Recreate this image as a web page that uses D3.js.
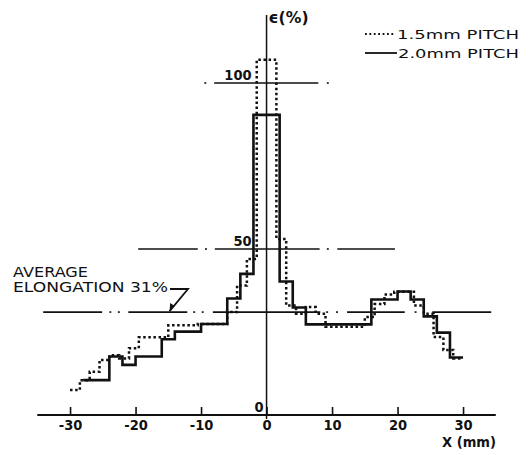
<!DOCTYPE html>
<html><head><meta charset="utf-8">
<script src="https://cdn.jsdelivr.net/npm/d3@7"></script>
<style>body{margin:0;background:#fff}svg{display:block}</style>
</head><body>
<svg id="c" width="531" height="455"></svg>
<script>
// ---- data ----
const xTicks = [-30, -20, -10, 0, 10, 20, 30];
const yTicks = [0, 50, 100];
// 1.5 mm pitch (dotted): bin starts (mm) and elongation (%)
const pitch15X = [-30,-28.5,-27,-25.5,-24,-22.5,-21,-19.5,-18,-16.5,-15,-13.5,-12,-10.5,-9,-7.5,-6,-4.5,-3,-1.5,
                  0,1.5,3,4.5,6,7.5,9,10.5,12,13.5,15,16.5,18,19.5,21,22.5,24,25.5,27,28.5];
const pitch15V = [7.5,10.5,13.0,16.6,18.0,17.0,20.1,23.4,23.4,23.4,27.0,27.0,27.0,27.4,27.4,27.4,31.0,39.0,47.0,107,
                  107,53,33,30.5,32.5,30.5,26.6,26.6,26.6,26.6,29.5,33.4,36.3,37.1,37.1,33.0,30.5,23.5,19.6,17.0];
const pitch15End = 30;
// 2.0 mm pitch (solid)
const pitch20X = [-28,-26,-24,-22,-20,-18,-16,-14,-12,-10,-8,-6,-4,-2,0,2,4,6,8,10,12,14,16,18,20,22,24,26,28];
const pitch20V = [10.5,10.5,17.6,15.1,17.6,17.6,22.8,25.1,25.1,27.4,27.4,35.1,42.5,90.4,90.4,40.2,32.4,27.3,27.3,27.3,27.3,27.3,34.8,34.8,37.2,34.8,29.7,24.8,17.3];
const pitch20End = 30;
const averageElongation = 31;
// reference lines: dash/dot pieces (mm)
const ref100 = [[-9.5,-9.2],[-8.0,7.9],[9.2,9.5]];
const ref50 = [[-19.6,-10.5],[-9.4,-9.1],[-7.9,8.1],[9.2,9.5],[10.8,19.6]];
const refAvg = [[-34.1,-25.1],[-24.0,-23.7],[-22.7,-22.4],[-21.1,-12.1],[-11.2,-10.9],[-9.9,-9.6],[-8.2,8.2],
                [9.1,9.4],[10.6,10.9],[12.3,21.1],[22.6,22.9],[23.9,24.2],[25.3,34.3]];
const legendLabels = ["1.5mm PITCH", "2.0mm PITCH"];

// ---- chart ----
const svg = d3.select("#c");
const x = d3.scaleLinear().domain([-35, 35]).range([37.3, 495.8]);
const y = d3.scaleLinear().domain([0, 100]).range([415, 83]);
const boldFont = "DejaVu Sans Condensed, DejaVu Sans, sans-serif";

function refLine(level, segs) {
  svg.append("g").selectAll("line").data(segs).join("line")
    .attr("x1", d => x(d[0])).attr("x2", d => x(d[1]))
    .attr("y1", y(level)).attr("y2", y(level))
    .attr("stroke", "#111").attr("stroke-width", 1.6);
}
refLine(100, ref100);
refLine(50, ref50);
refLine(averageElongation, refAvg);

// x axis
const xAxis = svg.append("g").attr("transform", `translate(0,${y(0)})`)
  .call(d3.axisBottom(x).tickValues(xTicks).tickSize(-8).tickFormat(d => String(d)));
xAxis.select(".domain").attr("stroke", "#111").attr("stroke-width", 2).attr("d", `M${x(-35)},0H${x(35)}`);
xAxis.selectAll(".tick line").attr("stroke", "#111").attr("stroke-width", 1.6);
xAxis.selectAll(".tick text").attr("y", 15).attr("dy", 0)
  .attr("font-family", boldFont).attr("font-weight", "bold")
  .attr("font-size", 14.5).attr("fill", "#111");

// y axis line
svg.append("line").attr("x1", x(0)).attr("x2", x(0)).attr("y1", 15).attr("y2", y(0) + 4)
  .attr("stroke", "#111").attr("stroke-width", 1.5);

// y tick labels
svg.append("g").selectAll("text").data(yTicks).join("text")
  .attr("x", d => d === 0 ? x(0) - 3 : x(0) - 15)
  .attr("y", d => y(d) - 3)
  .attr("text-anchor", "end")
  .attr("font-family", boldFont).attr("font-weight", "bold")
  .attr("font-size", 14.5).attr("fill", "#111")
  .text(d => d);

// step lines
const line = d3.line().x(d => x(d[0])).y(d => y(d[1])).curve(d3.curveStepAfter);
const pts15 = pitch15X.map((v, i) => [v, pitch15V[i]]).concat([[pitch15End, pitch15V[pitch15V.length - 1]]]);
const pts20 = pitch20X.map((v, i) => [v, pitch20V[i]]).concat([[pitch20End, pitch20V[pitch20V.length - 1]]]);
svg.append("path").attr("d", line(pts20)).attr("fill", "none").attr("stroke", "#111").attr("stroke-width", 2.6);
svg.append("path").attr("d", line(pts15)).attr("fill", "none").attr("stroke", "#111")
  .attr("stroke-width", 2.5).attr("stroke-dasharray", "2.5,2.6");

// axis titles
svg.append("text").attr("x", x(0) + 2).attr("y", 23)
  .attr("font-family", "DejaVu Sans, sans-serif").attr("font-weight", "bold").attr("font-size", 15)
  .attr("textLength", 40).attr("lengthAdjust", "spacingAndGlyphs").attr("fill", "#111").text("ϵ(%)");
svg.append("text").attr("x", 442).attr("y", 447)
  .attr("font-family", boldFont).attr("font-weight", "bold").attr("font-size", 14.5)
  .attr("textLength", 54).attr("lengthAdjust", "spacingAndGlyphs").attr("fill", "#111").text("X (mm)");

// legend
const lg = svg.append("g");
lg.append("line").attr("x1", 365).attr("x2", 395).attr("y1", 34).attr("y2", 34)
  .attr("stroke", "#111").attr("stroke-width", 1.8).attr("stroke-dasharray", "1.8,2.6");
lg.append("line").attr("x1", 365).attr("x2", 397).attr("y1", 53).attr("y2", 53)
  .attr("stroke", "#111").attr("stroke-width", 1.8);
lg.selectAll("text").data(legendLabels).join("text")
  .attr("x", (d, i) => i === 0 ? 397 : 398).attr("y", (d, i) => i === 0 ? 39 : 58)
  .attr("font-family", "DejaVu Sans, sans-serif").attr("font-size", 12.5)
  .attr("textLength", (d, i) => i === 0 ? 122 : 121).attr("lengthAdjust", "spacingAndGlyphs")
  .attr("fill", "#111").text(d => d);

// average annotation
const ann = svg.append("g").attr("font-family", "DejaVu Sans, sans-serif").attr("font-size", 13.5).attr("fill", "#111");
ann.append("text").attr("x", 13).attr("y", 277).attr("textLength", 75).attr("lengthAdjust", "spacingAndGlyphs").text("AVERAGE");
ann.append("text").attr("x", 13).attr("y", 292).attr("textLength", 155).attr("lengthAdjust", "spacingAndGlyphs")
  .text("ELONGATION " + averageElongation + "%");
svg.append("path").attr("d", `M170,289H188L${x(-14.8)},${y(averageElongation) - 1}`)
  .attr("fill", "none").attr("stroke", "#111").attr("stroke-width", 1.8);
svg.append("path").attr("d", `M${x(-14.8)},${y(averageElongation) - 1}l0.5,-8l4.5,3z`).attr("fill", "#111");
</script>
</body></html>
